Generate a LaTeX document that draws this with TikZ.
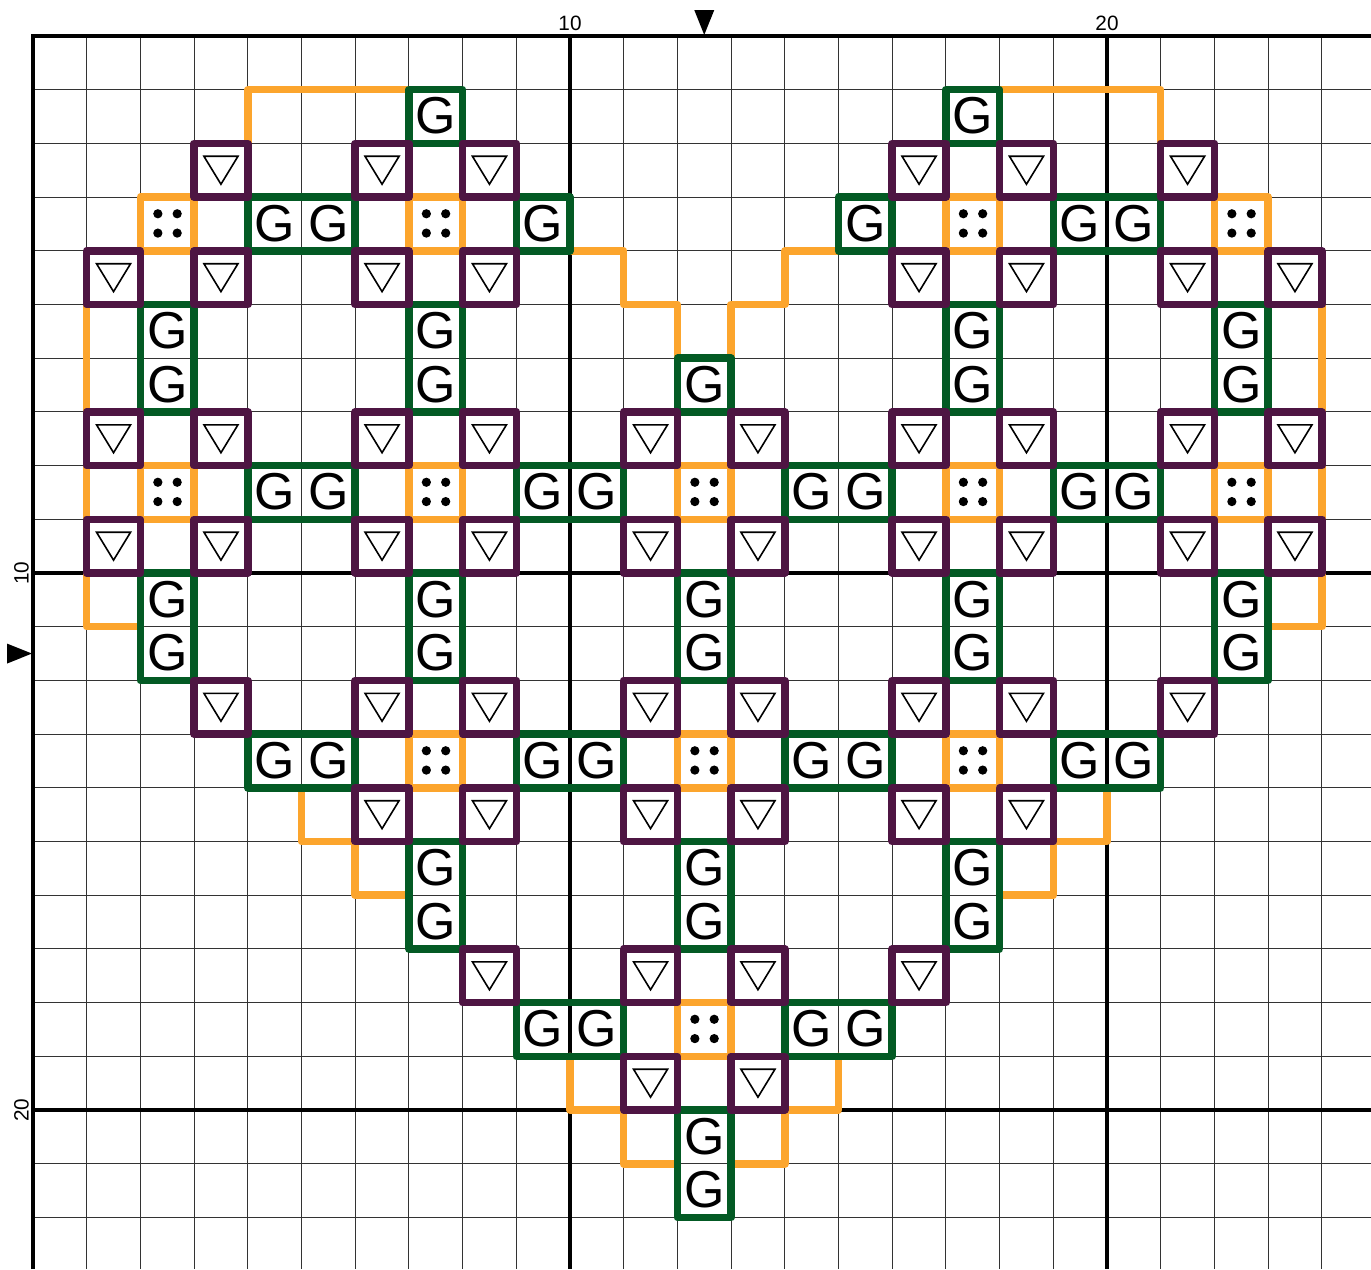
\documentclass[tikz,border=0pt]{standalone}
\usepackage{fontspec}
\setmainfont{Liberation Sans}
\definecolor{orng}{RGB}{252,165,45}
\definecolor{purp}{RGB}{78,21,67}
\definecolor{grn}{RGB}{3,90,36}
\begin{document}
\begin{tikzpicture}[x=1cm,y=-1cm,
  thingrid/.style={line width=0.6pt, black!80},
  thickgrid/.style={line width=2pt, black},
  orngline/.style={draw=orng, line width=4pt, line join=round, line cap=round},
  grnbox/.style={draw=grn, line width=4pt, line join=round},
  purpbox/.style={draw=purp, line width=4pt, line join=round},
  gletter/.style={font=\fontsize{27.5}{27.5}\selectfont, anchor=base, inner sep=0pt},
  axislabel/.style={font=\fontsize{11}{11}\selectfont, anchor=base, inner sep=0pt},
  trisym/.pic={
    \draw[purpbox] (-0.5,-0.5) rectangle (0.5,0.5);
    \draw[line width=0.85pt, black, line join=miter] (-0.317,-0.26) -- (0.317,-0.26) -- (0,0.26) -- cycle;
  },
  dotsym/.pic={
    \draw[orngline] (-0.5,-0.5) rectangle (0.5,0.5);
    \foreach \dx in {-0.175,0.185} \foreach \dy in {-0.19,0.17}
      \fill[black] (\dx,\dy) circle (0.086);
  }
]
\useasboundingbox (-0.6145,-0.6704) rectangle (24.916,22.961);
\fill[white] (-0.6145,-0.6704) rectangle (24.916,22.961);

% grid
\foreach \i in {1,...,24} \draw[thingrid] (\i,0) -- (\i,22.961);
\foreach \j in {1,...,22} \draw[thingrid] (0,\j) -- (24.916,\j);
\draw[thickgrid] (0,22.961) -- (0,0) -- (24.916,0);
\foreach \i in {10,20} {
  \draw[thickgrid] (\i,0) -- (\i,22.961);
  \draw[thickgrid] (0,\i) -- (24.916,\i);
}

% orange outline
\draw[orngline] (4,2) -- (4,1) -- (7,1);
\draw[orngline] (18,1) -- (21,1) -- (21,2);
\draw[orngline] (10,4) -- (11,4) -- (11,5) -- (12,5) -- (12,6);
\draw[orngline] (13,6) -- (13,5) -- (14,5) -- (14,4) -- (15,4);
\draw[orngline] (1,5) -- (1,7);
\draw[orngline] (1,8) -- (1,9);
\draw[orngline] (1,10) -- (1,11) -- (2,11);
\draw[orngline] (24,5) -- (24,7);
\draw[orngline] (24,8) -- (24,9);
\draw[orngline] (24,10) -- (24,11) -- (23,11);
\draw[orngline] (5,14) -- (5,15) -- (6,15) -- (6,16) -- (7,16);
\draw[orngline] (20,14) -- (20,15) -- (19,15) -- (19,16) -- (18,16);
\draw[orngline] (10,19) -- (10,20) -- (11,20) -- (11,21) -- (12,21);
\draw[orngline] (15,19) -- (15,20) -- (14,20) -- (14,21) -- (13,21);

% dots cells
\foreach \c/\r in {2/3,7/3,17/3,22/3,2/8,7/8,12/8,17/8,22/8,7/13,12/13,17/13,12/18}
  \pic at (\c+0.5,\r+0.5) {dotsym};

% single G
\foreach \c/\r in {7/1,17/1,12/6,9/3,15/3} {
  \draw[grnbox] (\c,\r) rectangle (\c+1,\r+1);
  \node[gletter] (g-\c-\r) at (\c+0.5,\r+0.82) {G};
}
% horizontal GG
\foreach \c/\r in {4/3,19/3,4/8,9/8,14/8,19/8,4/13,9/13,14/13,19/13,9/18,14/18} {
  \draw[grnbox] (\c,\r) rectangle (\c+2,\r+1);
  \node[gletter] (ga-\c-\r) at (\c+0.5,\r+0.82) {G};
  \node[gletter] (gb-\c-\r) at (\c+1.5,\r+0.82) {G};
}
% vertical GG
\foreach \c/\r in {2/5,7/5,17/5,22/5,2/10,7/10,12/10,17/10,22/10,7/15,12/15,17/15,12/20} {
  \draw[grnbox] (\c,\r) rectangle (\c+1,\r+2);
  \node[gletter] (gc-\c-\r) at (\c+0.5,\r+0.82) {G};
  \node[gletter] (gd-\c-\r) at (\c+0.5,\r+1.82) {G};
}

% triangle cells
\foreach \c/\r in {3/2,6/2,8/2,16/2,18/2,21/2,
  1/4,3/4,6/4,8/4,16/4,18/4,21/4,23/4,
  1/7,3/7,6/7,8/7,11/7,13/7,16/7,18/7,21/7,23/7,
  1/9,3/9,6/9,8/9,11/9,13/9,16/9,18/9,21/9,23/9,
  3/12,6/12,8/12,11/12,13/12,16/12,18/12,21/12,
  6/14,8/14,11/14,13/14,16/14,18/14,
  8/17,11/17,13/17,16/17,
  11/19,13/19}
  \pic at (\c+0.5,\r+0.5) {trisym};

% centre markers
\fill[black] (12.314,-0.484) -- (12.686,-0.484) -- (12.5,-0.02) -- cycle;
\fill[black] (-0.484,11.314) -- (-0.484,11.686) -- (-0.02,11.5) -- cycle;

% axis labels
\node[axislabel] (t10) at (10,-0.11) {10};
\node[axislabel] (t20) at (20,-0.11) {20};
\node[axislabel, rotate=90] (l10) at (-0.08,10) {10};
\node[axislabel, rotate=90] (l20) at (-0.08,20) {20};
\end{tikzpicture}
\end{document}
